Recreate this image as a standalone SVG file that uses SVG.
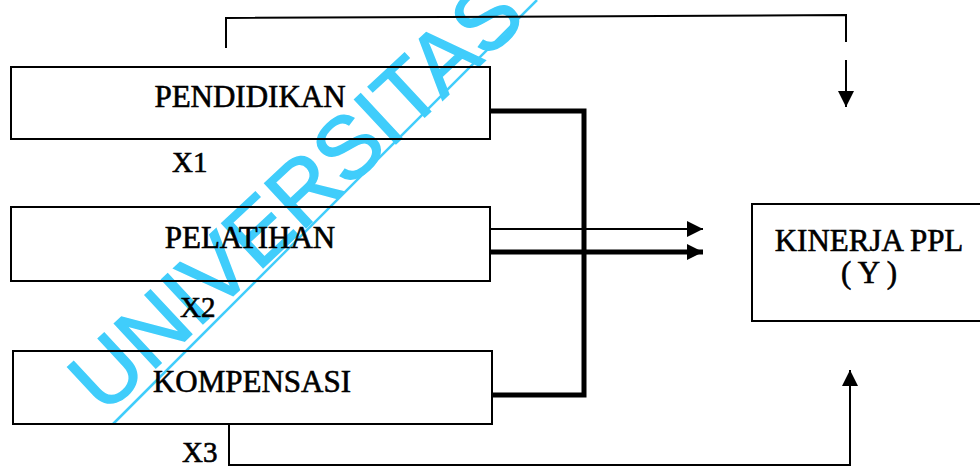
<svg xmlns="http://www.w3.org/2000/svg" width="980" height="467" viewBox="0 0 980 467">
<style>
.box{fill:none;stroke:#000;stroke-width:2}
.lbl{font-family:"Liberation Serif","Times New Roman",serif;font-size:31px;fill:#000;stroke:#000;stroke-width:0.6}
.var{font-family:"Liberation Serif","Times New Roman",serif;font-size:29px;fill:#000;stroke:#000;stroke-width:0.6}
.thin{fill:none;stroke:#000;stroke-width:2}
.thick{fill:none;stroke:#000;stroke-width:5}
.wm{font-family:"Liberation Sans",Arial,sans-serif;font-size:88px;fill:#40cdfb;stroke:#40cdfb;stroke-width:1.5}
</style>
<defs>
<marker id="ah" markerUnits="userSpaceOnUse" markerWidth="16" markerHeight="16" refX="16" refY="8" orient="auto" viewBox="0 0 16 16">
<path d="M0,0 L16,8 L0,16 z" fill="#000"/>
</marker>
</defs>
<rect width="980" height="467" fill="#fff"/>
<g id="watermark">
<text class="wm" transform="translate(104,416) rotate(-43)">UNIVERSITAS</text>
<line x1="113" y1="424" x2="537" y2="0" stroke="#40cdfb" stroke-width="2.5"/>
</g>
<g id="connectors">
<polyline class="thin" points="226,48 226,18 846,15 846,42"/>
<line class="thin" x1="846" y1="60" x2="846" y2="107" marker-end="url(#ah)"/>
<path class="thick" d="M490,111 H584 V395 H492"/>
<line class="thin" x1="490" y1="229" x2="703" y2="229" marker-end="url(#ah)"/>
<line class="thick" x1="490" y1="252" x2="703" y2="252" marker-end="url(#ah)"/>
<polyline class="thin" points="229,425 229,465 850,465 850,370" marker-end="url(#ah)"/>
</g>
<g id="pendidikan">
<rect class="box" x="11" y="67" width="479" height="72"/>
<text class="lbl" x="250" y="107" text-anchor="middle">PENDIDIKAN</text>
<text class="var" x="172" y="172">X1</text>
</g>
<g id="pelatihan">
<rect class="box" x="11" y="207" width="479" height="74"/>
<text class="lbl" x="250" y="248" text-anchor="middle">PELATIHAN</text>
<text class="var" x="180" y="317">X2</text>
</g>
<g id="kompensasi">
<rect class="box" x="13" y="351" width="479" height="73"/>
<text class="lbl" x="252" y="392" text-anchor="middle">KOMPENSASI</text>
<text class="var" x="182" y="462">X3</text>
</g>
<g id="kinerja">
<rect class="box" x="752" y="204" width="240" height="117"/>
<text class="lbl" x="869" y="251" text-anchor="middle">KINERJA PPL</text>
<text class="lbl" x="869" y="283" text-anchor="middle">( Y )</text>
</g>
</svg>
